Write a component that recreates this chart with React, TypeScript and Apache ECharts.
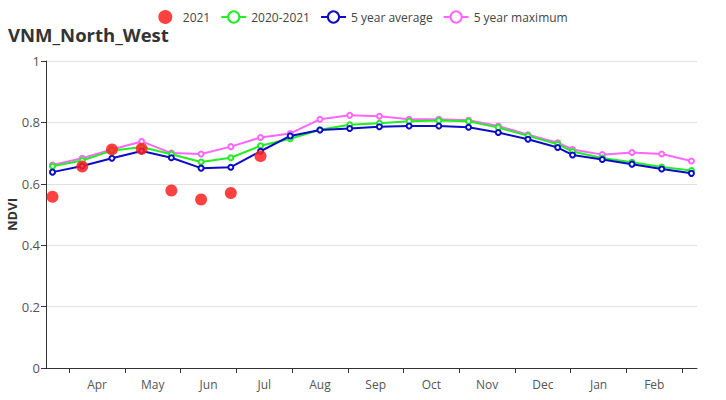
import React, { useEffect, useRef } from "react";
import * as echarts from "echarts";

// x positions (day index, 30-day months; Apr starts at 30)
const dayIndex = [21, 37, 53, 69, 85, 101, 117, 133, 149, 165, 181, 197, 213, 229, 245, 261, 277, 293, 301, 317, 333, 349, 365];

const ndvi2021 = [0.558, 0.656, 0.712, 0.714, 0.578, 0.549, 0.570, 0.690];

const ndvi20202021 = [0.657, 0.676, 0.708, 0.720, 0.696, 0.671, 0.685, 0.724, 0.747, 0.776, 0.792, 0.797, 0.804, 0.806, 0.804, 0.783, 0.756, 0.729, 0.705, 0.684, 0.670, 0.655, 0.643];

const avg5 = [0.638, 0.658, 0.683, 0.707, 0.685, 0.651, 0.654, 0.706, 0.756, 0.775, 0.780, 0.786, 0.788, 0.788, 0.784, 0.767, 0.745, 0.718, 0.694, 0.679, 0.664, 0.648, 0.634];

const max5 = [0.661, 0.683, 0.712, 0.738, 0.700, 0.697, 0.721, 0.751, 0.764, 0.810, 0.823, 0.820, 0.810, 0.810, 0.807, 0.788, 0.760, 0.734, 0.712, 0.695, 0.702, 0.697, 0.674];

const monthNames = ["Apr", "May", "Jun", "Jul", "Aug", "Sep", "Oct", "Nov", "Dec", "Jan", "Feb"];
const monthTicks = [30, 60, 90, 120, 150, 180, 210, 240, 270, 300, 330, 360];
const monthLabelPos = [45, 75, 105, 135, 165, 195, 225, 255, 285, 315, 345];

const FONT = "'Open Sans', 'Noto Sans', sans-serif";

function pairs(vals: number[]) {
  return vals.map((v, i) => [dayIndex[i], v]);
}

export default function App() {
  const ref = useRef<HTMLDivElement>(null);
  useEffect(() => {
    document.body.style.margin = "0";
    if (!ref.current) return;
    const chart = echarts.init(ref.current, undefined, { renderer: "svg" });
    const lineSeries = (name: string, color: string, data: number[], z: number) => ({
      name,
      type: "line",
      data: pairs(data),
      symbol: "emptyCircle",
      symbolSize: 5,
      z,
      lineStyle: { color, width: 2 },
      itemStyle: { color, borderWidth: 1.2 },
    });
    chart.setOption({
      animation: false,
      textStyle: { fontFamily: FONT },
      title: {
        text: "VNM_North_West",
        left: 3,
        top: 20,
        textStyle: { fontSize: 18.5, fontWeight: "bold", color: "#333", fontFamily: FONT },
      },
      legend: {
        top: 5,
        left: "center",
        itemWidth: 25,
        itemHeight: 14,
        itemGap: 10,
        textStyle: { fontSize: 12, color: "#444", fontFamily: FONT },
        data: ["2021", "2020-2021", "5 year average", "5 year maximum"],
      },
      grid: { left: 46, right: 29, top: 61, bottom: 32, outerBoundsMode: "none" },
      xAxis: {
        type: "value",
        min: 17.5,
        max: 368,
        splitLine: { show: false },
        axisLine: { lineStyle: { color: "#333" } },
        axisTick: { show: true, customValues: monthTicks, length: 5, lineStyle: { color: "#333" } },
        axisLabel: {
          customValues: monthLabelPos,
          color: "#555",
          fontSize: 12,
          margin: 10,
          formatter: (v: number) => monthNames[Math.round((v - 45) / 30)] ?? "",
        },
      },
      yAxis: {
        type: "value",
        min: 0,
        max: 1,
        interval: 0.2,
        name: "NDVI",
        nameLocation: "middle",
        nameGap: 28,
        nameMoveOverlap: false,
        nameTextStyle: { fontSize: 13, fontWeight: "bold", color: "#333" },
        axisLine: { show: true, lineStyle: { color: "#333" } },
        axisTick: { show: true, length: 5, lineStyle: { color: "#333" } },
        axisLabel: { color: "#555", fontSize: 13, margin: 6 },
        splitLine: { lineStyle: { color: "#e0e0e0" } },
      },
      series: [
        {
          name: "2021",
          type: "scatter",
          data: pairs(ndvi2021),
          symbolSize: 12,
          z: 10,
          itemStyle: { color: "#ff2020", opacity: 0.85 },
        },
        lineSeries("2020-2021", "#22ee22", ndvi20202021, 3),
        lineSeries("5 year average", "#0b0bc8", avg5, 4),
        lineSeries("5 year maximum", "#ff66ff", max5, 2),
      ],
    });
    return () => chart.dispose();
  }, []);
  return <div ref={ref} style={{ width: 726, height: 400 }} />;
}
